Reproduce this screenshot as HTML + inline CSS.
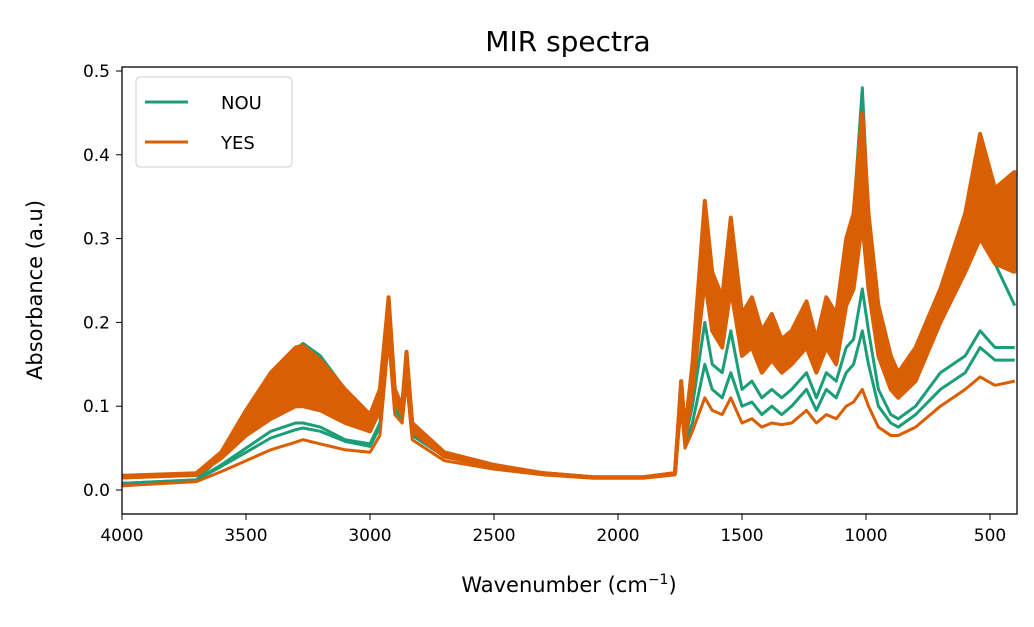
<!DOCTYPE html>
<html><head><meta charset="utf-8"><style>
body{margin:0;background:#fff;width:1034px;height:622px;overflow:hidden}
svg text{font-family:"DejaVu Sans","Liberation Sans",sans-serif;fill:#000}
</style></head><body>
<svg id="chart" width="1034" height="622">
<defs><clipPath id="clip"><rect x="122" y="67" width="895" height="447"/></clipPath></defs>
<text x="568" y="51" font-size="28" text-anchor="middle">MIR spectra</text>
<g id="lines" clip-path="url(#clip)"></g>
<rect x="122" y="67" width="895" height="447" fill="none" stroke="#000" stroke-width="1.3"/>
<g id="xticks"></g>
<g id="yticks"></g>
<text x="569" y="592" font-size="21" text-anchor="middle">Wavenumber (cm<tspan dy="-8" font-size="14">−1</tspan><tspan dy="8">)</tspan></text>
<text transform="translate(42,290) rotate(-90)" font-size="21" text-anchor="middle">Absorbance (a.u)</text>
<g>
<rect x="136" y="77" width="156" height="90" rx="4" fill="#fff" stroke="#ccc"/>
<g><line x1="145" y1="102" x2="188" y2="102" stroke="#1b9e77" stroke-width="3"/><text x="221" y="109" font-size="18">NOU</text></g>
<g><line x1="145" y1="142" x2="188" y2="142" stroke="#d95f02" stroke-width="3"/><text x="221" y="149" font-size="18">YES</text></g>
</g>
</svg>
<script>
const wavenumbers=[4000,3700,3600,3500,3400,3300,3270,3200,3100,3000,2960,2925,2900,2870,2853,2830,2700,2500,2300,2100,1900,1770,1745,1730,1700,1650,1620,1580,1545,1500,1460,1420,1380,1340,1300,1240,1200,1160,1120,1080,1050,1015,990,950,900,870,800,700,600,540,480,400];
const nou1=[.005,.012,.04,.09,.135,.168,.175,.16,.12,.09,.12,.22,.12,.1,.16,.08,.045,.03,.02,.015,.015,.02,.13,.07,.15,.33,.25,.22,.32,.2,.22,.18,.2,.17,.18,.22,.17,.22,.2,.3,.33,.48,.33,.2,.14,.12,.14,.2,.27,.33,.27,.22];
const nou2=[.008,.012,.03,.05,.07,.08,.08,.075,.06,.055,.08,.2,.1,.09,.15,.07,.04,.028,.02,.015,.015,.02,.12,.06,.1,.2,.15,.14,.19,.12,.13,.11,.12,.11,.12,.14,.11,.14,.13,.17,.18,.24,.19,.12,.09,.085,.1,.14,.16,.19,.17,.17];
const nou3=[.008,.012,.028,.045,.062,.072,.074,.07,.058,.052,.075,.19,.095,.085,.14,.065,.04,.028,.02,.015,.015,.02,.11,.055,.08,.15,.12,.11,.14,.1,.105,.09,.1,.09,.1,.12,.095,.12,.11,.14,.15,.19,.15,.1,.08,.075,.09,.12,.14,.17,.155,.155];
const yes1=[.017,.02,.045,.095,.14,.17,.172,.155,.12,.09,.12,.23,.12,.1,.165,.08,.045,.03,.02,.015,.015,.02,.13,.07,.15,.345,.26,.23,.325,.21,.23,.19,.21,.18,.19,.225,.18,.23,.21,.3,.33,.45,.33,.22,.16,.14,.17,.24,.33,.425,.36,.38];
const yes5=[.016,.019,.042,.085,.12,.145,.147,.135,.105,.082,.11,.22,.115,.098,.16,.078,.044,.029,.02,.015,.015,.02,.128,.068,.14,.32,.24,.215,.3,.195,.21,.175,.19,.165,.175,.205,.165,.21,.19,.27,.3,.41,.3,.2,.15,.13,.16,.23,.31,.39,.33,.34];
const yes2=[.015,.018,.04,.075,.1,.12,.12,.11,.09,.075,.1,.21,.11,.095,.155,.075,.042,.028,.02,.015,.015,.02,.125,.065,.13,.3,.22,.2,.28,.18,.19,.16,.17,.15,.16,.19,.15,.19,.17,.25,.27,.38,.28,.18,.14,.12,.15,.22,.29,.36,.31,.3];
const yes3=[.015,.018,.038,.065,.085,.1,.1,.095,.08,.07,.095,.2,.105,.09,.15,.07,.04,.028,.02,.015,.015,.02,.12,.06,.12,.25,.19,.17,.24,.16,.17,.14,.155,.14,.15,.17,.14,.17,.15,.22,.24,.32,.24,.16,.12,.11,.13,.2,.26,.3,.27,.26];
const yes4=[.005,.01,.022,.035,.048,.057,.06,.055,.048,.045,.065,.18,.09,.08,.13,.06,.035,.025,.018,.014,.014,.018,.1,.05,.07,.11,.095,.09,.11,.08,.085,.075,.08,.078,.08,.095,.08,.09,.085,.1,.105,.12,.1,.075,.065,.065,.075,.1,.12,.135,.125,.13];
const xTicks=[4000,3500,3000,2500,2000,1500,1000,500];
const yTicks=[0.0,0.1,0.2,0.3,0.4,0.5];
const NS='http://www.w3.org/2000/svg';
const X=w=>122+(4000-w)*124/500;
const Y=v=>490-v*838;
const g=document.getElementById('lines');
function draw(arr,color,name,width){
  const p=document.createElementNS(NS,'path');
  p.setAttribute('d',arr.map((v,i)=>(i?'L':'M')+X(wavenumbers[i]).toFixed(1)+','+Y(v).toFixed(1)).join(''));
  p.setAttribute('fill','none');p.setAttribute('stroke',color);p.setAttribute('stroke-width',width);p.setAttribute('stroke-linejoin','round');
  
  
  g.appendChild(p);
}
function band(lo,hi,color,name){
  const p=document.createElementNS(NS,'path');
  let d=hi.map((v,i)=>(i?'L':'M')+X(wavenumbers[i]).toFixed(1)+','+Y(v).toFixed(1)).join('');
  for(let i=lo.length-1;i>=0;i--) d+='L'+X(wavenumbers[i]).toFixed(1)+','+Y(lo[i]).toFixed(1);
  p.setAttribute('d',d+'Z');
  p.setAttribute('fill',color);p.setAttribute('stroke',color);p.setAttribute('stroke-width',3);p.setAttribute('stroke-linejoin','round');
  
  
  g.appendChild(p);
}
draw(nou1,'#1b9e77','nou-spectrum-1',3);
draw(nou2,'#1b9e77','nou-spectrum-2',3);
draw(nou3,'#1b9e77','nou-spectrum-3',3);
draw(yes4,'#d95f02','yes-spectrum-4',3);
band(yes3,yes1,'#d95f02','yes-spectra-band');
draw(yes3,'#d95f02','yes-spectrum-3',4);
draw(yes2,'#d95f02','yes-spectrum-2',4);
draw(yes5,'#d95f02','yes-spectrum-5',4);
draw(yes1,'#d95f02','yes-spectrum-1',4);
const xg=document.getElementById('xticks');
xTicks.forEach(t=>{
  const l=document.createElementNS(NS,'line');
  l.setAttribute('x1',X(t));l.setAttribute('x2',X(t));l.setAttribute('y1',514);l.setAttribute('y2',520);l.setAttribute('stroke','#000');
  
  
  xg.appendChild(l);
  const s=document.createElementNS(NS,'text');
  s.setAttribute('x',X(t));s.setAttribute('y',541);s.setAttribute('font-size','17');s.setAttribute('text-anchor','middle');s.textContent=t;
  
  
  xg.appendChild(s);
});
const yg=document.getElementById('yticks');
yTicks.forEach(t=>{
  const l=document.createElementNS(NS,'line');
  l.setAttribute('x1',116);l.setAttribute('x2',122);l.setAttribute('y1',Y(t));l.setAttribute('y2',Y(t));l.setAttribute('stroke','#000');
  
  
  yg.appendChild(l);
  const s=document.createElementNS(NS,'text');
  s.setAttribute('x',110);s.setAttribute('y',Y(t)+6);s.setAttribute('font-size','17');s.setAttribute('text-anchor','end');s.textContent=t.toFixed(1);
  
  
  yg.appendChild(s);
});
</script>
</body></html>
